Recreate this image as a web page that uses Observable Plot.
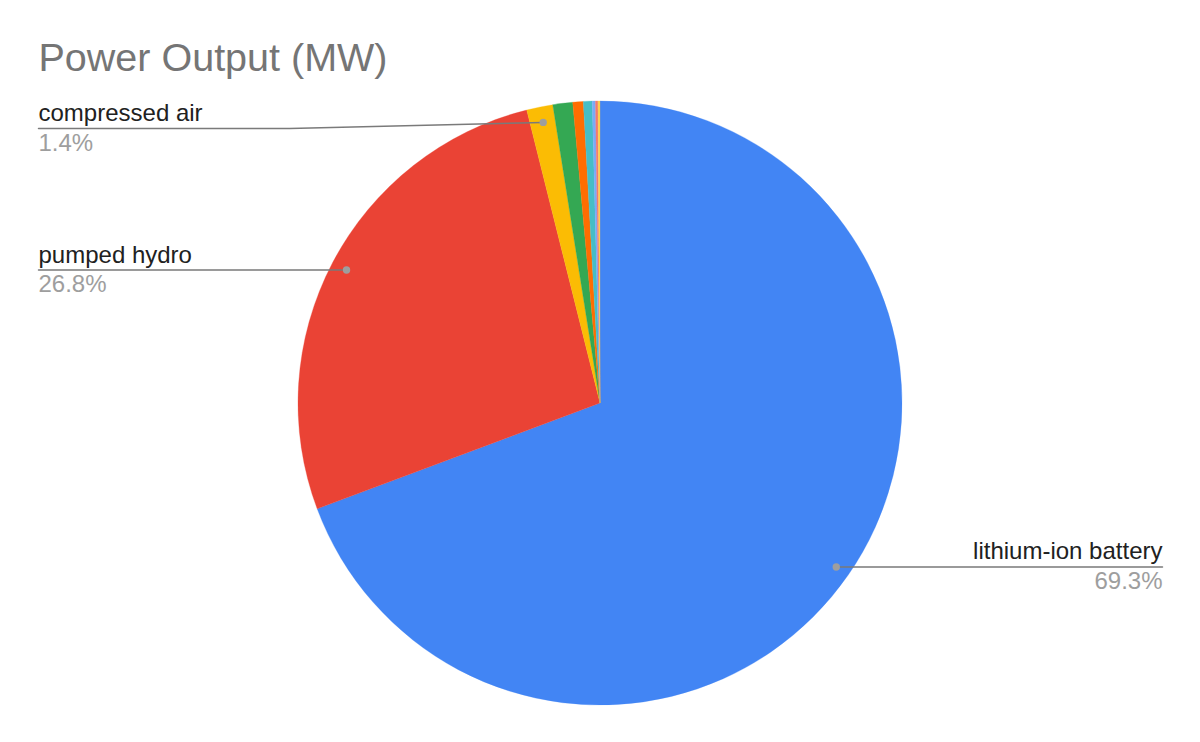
<!DOCTYPE html>
<html>
<head>
<meta charset="utf-8">
<script src="https://cdn.jsdelivr.net/npm/d3@7"></script>
<script src="https://cdn.jsdelivr.net/npm/@observablehq/plot@0.6"></script>
<style>
  html, body { margin: 0; padding: 0; background: #ffffff; }
  #chart svg { display: block; }
</style>
</head>
<body>
<div id="chart"></div>
<script>
// ---- Data ----
const title = "Power Output (MW)";
const categories = [
  "lithium-ion battery", "pumped hydro", "compressed air", "flywheel",
  "thermal storage", "flow battery", "lead-acid battery", "hydrogen", "sodium-sulfur battery"
];
const powerMW = [6930, 2680, 140, 106, 56, 47, 17, 13, 11];
const sliceColors = [
  "#4285F4", "#EA4335", "#FBBC04", "#34A853", "#FF6D01",
  "#46BDC6", "#7BAAF7", "#F07B72", "#FCD04F"
];

// ---- Layout (pixels) ----
const W = 1200, H = 742, CX = 600, CY = 403, R = 302;
const LABEL_INSET = 38;       // distance of label column from svg edge
const MIN_LINE_Y = 128;       // labels can't rise above this line
const DOT_R = 0.95;           // dot radius as a fraction of the pie radius
const ELBOW = 0.84;           // horizontal run of the sloped leader segment (pie units)
const LABEL_MIN_SHARE = 0.012;
const FONT = "'Liberation Sans', Arial, Helvetica, sans-serif";

const total = d3.sum(powerMW);
const rows = categories.map((name, i) => ({name, value: powerMW[i], color: sliceColors[i]}));
const arcs = d3.pie().sort(null).value(d => d.value)(rows);

// label geometry in pie units (x right, y up, radius = 1)
const labelled = arcs
  .filter(a => a.data.value / total >= LABEL_MIN_SHARE)
  .map(a => {
    const mid = (a.startAngle + a.endAngle) / 2;
    const dotX = Math.sin(mid) * DOT_R, dotY = Math.cos(mid) * DOT_R;
    const left = dotX < 0;
    const lx = left ? (LABEL_INSET - CX) / R : (W - LABEL_INSET - CX) / R;
    const ly = Math.min(dotY, (CY - MIN_LINE_Y) / R);
    const ex = left ? Math.max(lx, dotX - ELBOW) : Math.min(lx, dotX + ELBOW);
    return {
      name: a.data.name,
      pct: (a.data.value / total * 100).toFixed(1) + "%",
      left, dotX, dotY, lx, ly, ex
    };
  });

const leaderPts = labelled.flatMap(d => [
  {name: d.name, x: d.lx, y: d.ly},
  {name: d.name, x: d.ex, y: d.ly},
  {name: d.name, x: d.dotX, y: d.dotY}
]);

// pie slices drawn with Plot's own x/y scales
function slices(index, scales) {
  const cx = scales.x(0), cy = scales.y(0), r = scales.x(1) - scales.x(0);
  const arc = d3.arc().innerRadius(0).outerRadius(r);
  const g = d3.create("svg:g").attr("transform", `translate(${cx},${cy})`);
  g.selectAll("path").data(arcs).join("path")
    .attr("d", arc)
    .attr("fill", d => d.data.color)
    .attr("stroke", d => d.data.color)
    .attr("stroke-width", 0.3);
  return g.node();
}

const leftLabels = labelled.filter(d => d.left);
const rightLabels = labelled.filter(d => !d.left);

const textCommon = {fontSize: 24, lineAnchor: "bottom"};

const chart = Plot.plot({
  width: W,
  height: H,
  margin: 0,
  x: {domain: [-1, 1], range: [CX - R, CX + R], axis: null},
  y: {domain: [-1, 1], range: [CY + R, CY - R], axis: null},
  style: {fontFamily: FONT, background: "#ffffff", overflow: "visible"},
  marks: [
    slices,
    Plot.line(leaderPts, {x: "x", y: "y", z: "name", stroke: "#7a7a7a", strokeWidth: 1.5}),
    Plot.dot(labelled, {x: "dotX", y: "dotY", r: 3.7, fill: "#9e9e9e", stroke: "none"}),
    Plot.text(leftLabels, {x: "lx", y: "ly", text: "name", textAnchor: "start", dy: -7.5, fill: "#212121", ...textCommon}),
    Plot.text(leftLabels, {x: "lx", y: "ly", text: "pct", textAnchor: "start", dy: 22, fill: "#9e9e9e", ...textCommon}),
    Plot.text(rightLabels, {x: "lx", y: "ly", text: "name", textAnchor: "end", dy: -7.5, fill: "#212121", ...textCommon}),
    Plot.text(rightLabels, {x: "lx", y: "ly", text: "pct", textAnchor: "end", dy: 22, fill: "#9e9e9e", ...textCommon}),
    Plot.text([title], {text: d => d, frameAnchor: "top-left", dx: LABEL_INSET, dy: 42, fontSize: 39.5, fill: "#757575"})
  ]
});

document.getElementById("chart").appendChild(chart);
</script>
</body>
</html>
